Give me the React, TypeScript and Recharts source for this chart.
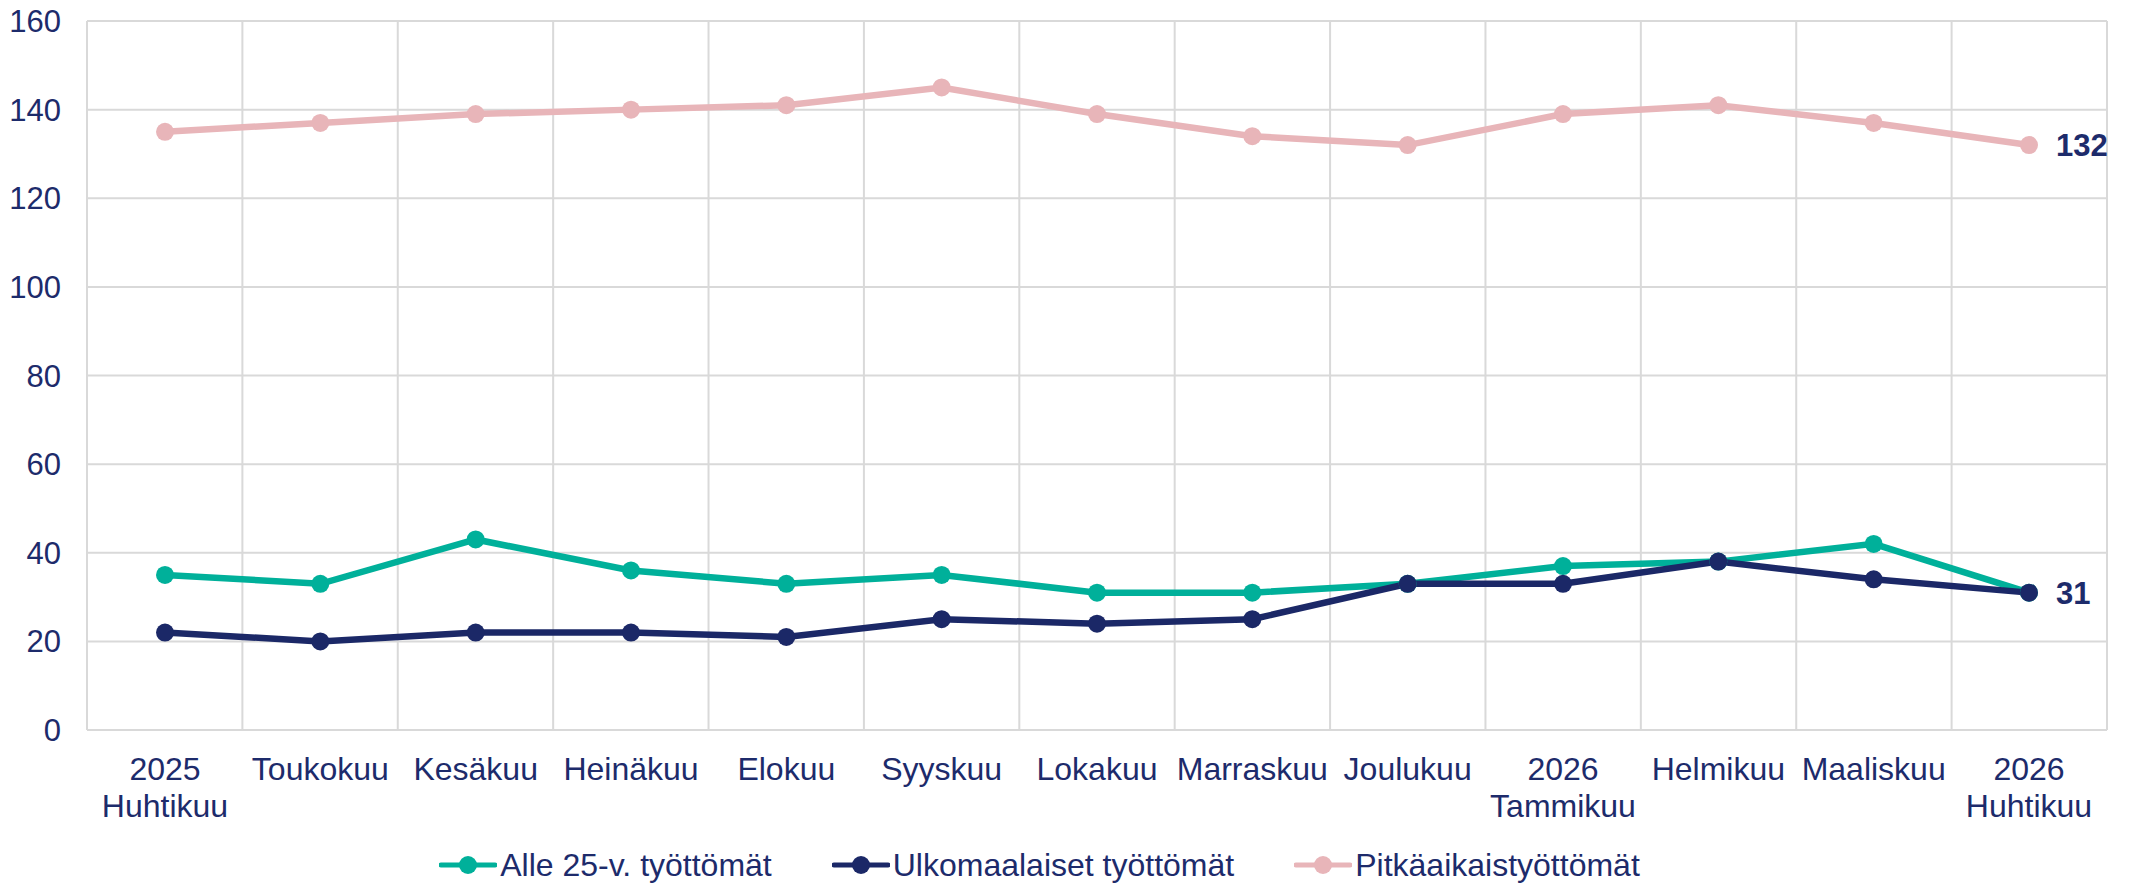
import { CartesianGrid, Legend, Line, LineChart, XAxis, YAxis } from 'recharts';

const months = [
    '2025\nHuhtikuu',
    'Toukokuu',
    'Kesäkuu',
    'Heinäkuu',
    'Elokuu',
    'Syyskuu',
    'Lokakuu',
    'Marraskuu',
    'Joulukuu',
    '2026\nTammikuu',
    'Helmikuu',
    'Maaliskuu',
    '2026\nHuhtikuu',
];

const youth = [35, 33, 43, 36, 33, 35, 31, 31, 33, 37, 38, 42, 31];
const foreign = [22, 20, 22, 22, 21, 25, 24, 25, 33, 33, 38, 34, 31];
const longTerm = [135, 137, 139, 140, 141, 145, 139, 134, 132, 139, 141, 137, 132];

const seriesNames = ['Alle 25-v. työttömät', 'Ulkomaalaiset työttömät', 'Pitkäaikaistyöttömät'];

const yTicks = [0, 20, 40, 60, 80, 100, 120, 140, 160];

const TEAL = '#00B09A';
const NAVY = '#1B2867';
const PINK = '#E8B5B9';
const TEXT = '#1D2B6B';
const FONT = '"Liberation Sans", Arial, sans-serif';
const FS = 31;

const data = months.map((m, i) => ({
    month: m,
    youth: youth[i],
    foreign: foreign[i],
    longTerm: longTerm[i],
}));

const MonthTick = ({ x, y, payload }: any) => {
    const lines = String(payload.value).split('\n');
    return (
        <text x={x} y={y + 50} textAnchor="middle" fill={TEXT} fontSize={32} fontFamily={FONT}>
            {lines.map((l, i) => (
                <tspan key={i} x={x} dy={i === 0 ? 0 : 37}>
                    {l}
                </tspan>
            ))}
        </text>
    );
};

// only the last point carries a value label
const endLabel = (props: any) => {
    const { x, y, value, index } = props;
    if (index !== months.length - 1) return null;
    return (
        <text x={x + 27} y={y} dy="0.36em" fill={TEXT} fontSize={FS} fontWeight="bold" fontFamily={FONT}>
            {value}
        </text>
    );
};

const LegendContent = ({ payload }: any) => {
    const items = [...(payload || [])].sort((a: any, b: any) => seriesNames.indexOf(a.value) - seriesNames.indexOf(b.value));
    return (
        <div style={{ display: 'flex', justifyContent: 'center', gap: 60, marginLeft: -28 }}>
            {items.map((p: any) => (
                <div key={p.value} style={{ display: 'flex', alignItems: 'center' }}>
                    <svg width={58} height={20} style={{ marginRight: 3 }}>
                        <line x1={2} y1={10} x2={56} y2={10} stroke={p.color} strokeWidth={5} strokeLinecap="round" />
                        <circle cx={29} cy={10} r={9} fill={p.color} />
                    </svg>
                    <span style={{ color: TEXT, fontSize: 32, fontFamily: FONT, lineHeight: '40px' }}>{p.value}</span>
                </div>
            ))}
        </div>
    );
};

const App = () => {
    return (
        <div style={{ width: 2136, height: 885, background: '#fff' }}>
            <style>{'body{margin:0}'}</style>
            <LineChart width={2136} height={885} data={data} margin={{ top: 21, right: 29, left: 0, bottom: 0 }}>
                <CartesianGrid
                    stroke="#D9D9D9"
                    strokeWidth={2}
                    verticalCoordinatesGenerator={({ offset }: any) =>
                        Array.from({ length: months.length + 1 }, (_, i) => offset.left + (i * offset.width) / months.length)
                    }
                />
                <XAxis
                    dataKey="month"
                    interval={0}
                    padding={{ left: 78, right: 78 }}
                    axisLine={false}
                    tickLine={false}
                    tickSize={0}
                    tickMargin={0}
                    height={115}
                    tick={<MonthTick />}
                />
                <YAxis
                    domain={[0, 160]}
                    ticks={yTicks}
                    width={87}
                    axisLine={false}
                    tickLine={false}
                    tickSize={0}
                    tickMargin={26}
                    tick={{ fill: TEXT, fontSize: FS, fontFamily: FONT }}
                />
                <Legend verticalAlign="bottom" height={40} content={<LegendContent />} />
                <Line
                    dataKey="youth"
                    name={seriesNames[0]}
                    stroke={TEAL}
                    strokeWidth={6.5}
                    dot={{ r: 9, fill: TEAL, stroke: 'none' }}
                    activeDot={false}
                    isAnimationActive={false}
                />
                <Line
                    dataKey="foreign"
                    name={seriesNames[1]}
                    stroke={NAVY}
                    strokeWidth={6.5}
                    dot={{ r: 9, fill: NAVY, stroke: 'none' }}
                    activeDot={false}
                    label={endLabel}
                    isAnimationActive={false}
                />
                <Line
                    dataKey="longTerm"
                    name={seriesNames[2]}
                    stroke={PINK}
                    strokeWidth={6.5}
                    dot={{ r: 9, fill: PINK, stroke: 'none' }}
                    activeDot={false}
                    label={endLabel}
                    isAnimationActive={false}
                />
            </LineChart>
        </div>
    );
};

export default App;
